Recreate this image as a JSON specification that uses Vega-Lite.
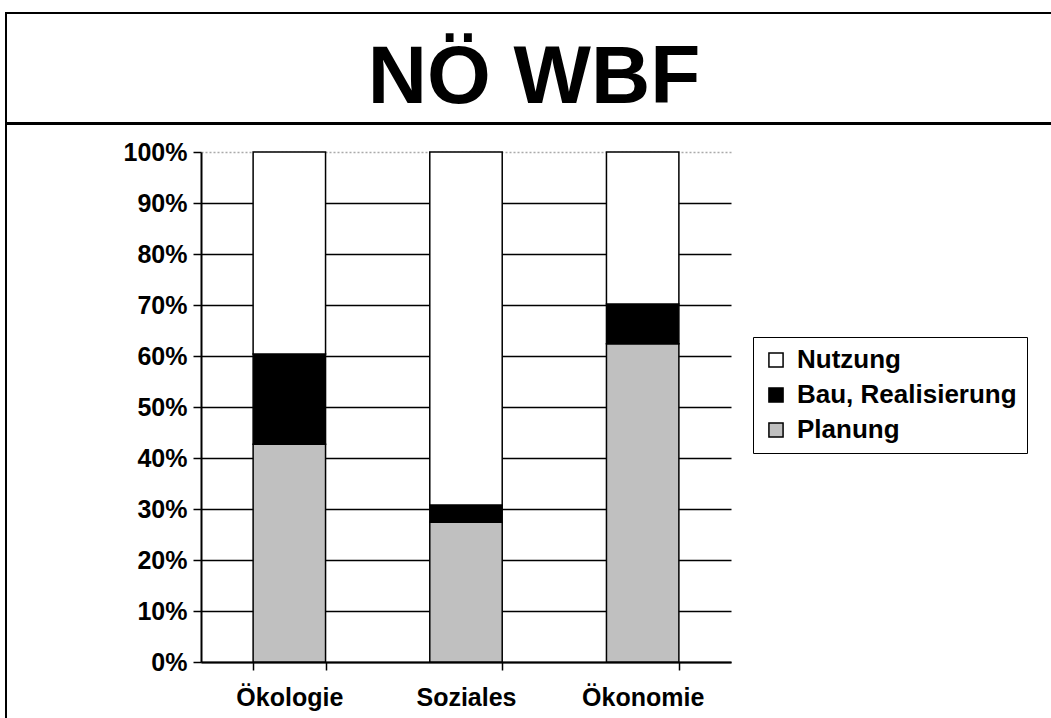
{
  "$schema": "https://vega.github.io/schema/vega-lite/v6.json",
  "padding": {"left": 5, "top": 12, "right": 0, "bottom": 0},
  "background": "white",
  "config": {"font": "Liberation Sans", "view": {"stroke": "black", "strokeWidth": 2}},
  "spacing": -2,
  "vconcat": [
    {
      "width": 1056,
      "height": 110,
      "view": {"stroke": "black", "strokeWidth": 2},
      "data": {"values": [{"titel": "NÖ WBF", "px": 0.5, "py": 0.5}]},
      "mark": {"type": "text", "fontSize": 82, "fontWeight": "bold", "font": "Liberation Sans", "baseline": "alphabetic", "align": "center", "dy": 35, "color": "black"},
      "encoding": {
        "x": {"field": "px", "type": "quantitative", "scale": {"domain": [0, 1]}, "axis": null},
        "y": {"field": "py", "type": "quantitative", "scale": {"domain": [0, 1]}, "axis": null},
        "text": {"field": "titel"}
      }
    },
    {
      "width": 1056,
      "height": 620,
      "data": {
        "values": [
          {"Bereich": "Ökologie", "Phase": "Planung", "Anteil": 42.7, "Rang": 1},
          {"Bereich": "Ökologie", "Phase": "Bau, Realisierung", "Anteil": 17.7, "Rang": 2},
          {"Bereich": "Ökologie", "Phase": "Nutzung", "Anteil": 39.6, "Rang": 3},
          {"Bereich": "Soziales", "Phase": "Planung", "Anteil": 27.4, "Rang": 1},
          {"Bereich": "Soziales", "Phase": "Bau, Realisierung", "Anteil": 3.4, "Rang": 2},
          {"Bereich": "Soziales", "Phase": "Nutzung", "Anteil": 69.2, "Rang": 3},
          {"Bereich": "Ökonomie", "Phase": "Planung", "Anteil": 62.4, "Rang": 1},
          {"Bereich": "Ökonomie", "Phase": "Bau, Realisierung", "Anteil": 7.8, "Rang": 2},
          {"Bereich": "Ökonomie", "Phase": "Nutzung", "Anteil": 29.8, "Rang": 3}
        ]
      },
      "mark": {"type": "bar", "stroke": "black", "strokeWidth": 1.5},
      "encoding": {
        "x": {
          "field": "Bereich", "type": "nominal",
          "sort": ["Ökologie", "Soziales", "Ökonomie"],
          "scale": {"paddingInner": 0.59, "paddingOuter": 0.295, "range": [195, 725]},
          "axis": {
            "title": null, "labelAngle": 0, "labelFontSize": 25, "labelFontWeight": "bold",
            "labelColor": "black", "labelPadding": 15, "domainColor": "black", "domainWidth": 2,
            "tickColor": "black", "tickWidth": 1.5, "tickSize": 8, "tickBand": "extent",
            "offset": -82
          }
        },
        "y": {
          "field": "Anteil", "type": "quantitative", "stack": "normalize",
          "scale": {"range": [538, 28]},
          "axis": {
            "title": null, "format": ".0%",
            "values": [0, 0.1, 0.2, 0.3, 0.4, 0.5, 0.6, 0.7, 0.8, 0.9, 1],
            "labelFontSize": 25, "labelFontWeight": "bold", "labelColor": "black", "labelPadding": 6,
            "grid": true,
            "gridColor": {"condition": {"test": "datum.value === 1", "value": "#aaaaaa"}, "value": "black"},
            "gridDash": {"condition": {"test": "datum.value === 1", "value": [2, 2]}, "value": []},
            "gridWidth": 1.5,
            "domainColor": "black", "domainWidth": 2,
            "tickColor": "black", "tickSize": 8, "tickWidth": 1.5,
            "offset": -195
          }
        },
        "color": {
          "field": "Phase", "type": "nominal",
          "scale": {"domain": ["Nutzung", "Bau, Realisierung", "Planung"], "range": ["white", "black", "#c0c0c0"]},
          "legend": {
            "title": null, "orient": "none", "legendX": 747, "legendY": 324,
            "strokeColor": "black", "fillColor": "white", "padding": 10,
            "labelFontSize": 26, "labelFontWeight": "bold", "labelColor": "black", "labelLimit": 400,
            "rowPadding": 9, "labelOffset": 8,
            "symbolType": "square", "symbolSize": 200, "symbolStrokeColor": "black", "symbolStrokeWidth": 1.5
          }
        },
        "order": {"field": "Rang", "type": "quantitative"}
      }
    }
  ]
}
